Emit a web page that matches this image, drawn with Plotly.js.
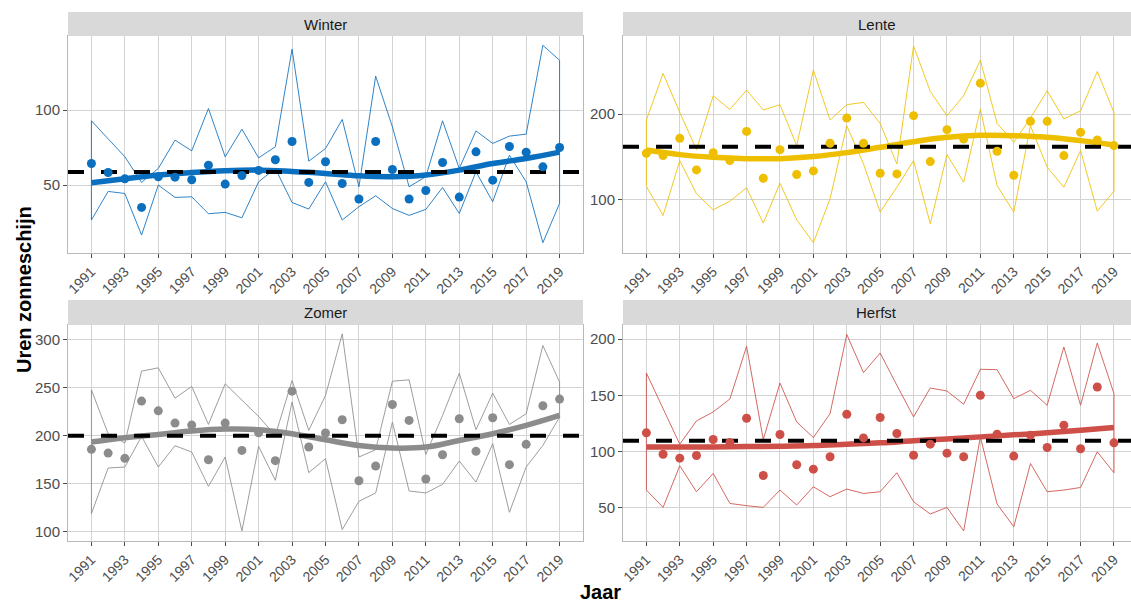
<!DOCTYPE html>
<html><head><meta charset="utf-8">
<script src="https://cdn.plot.ly/plotly-3.0.1.min.js"></script>
<style>html,body{margin:0;padding:0;background:#fff;overflow:hidden}</style>
</head><body><div id="chart" style="width:1131px;height:603px"></div>
<script>
const years = [1991,1992,1993,1994,1995,1996,1997,1998,1999,2000,2001,2002,2003,2004,2005,2006,2007,2008,2009,2010,2011,2012,2013,2014,2015,2016,2017,2018,2019];
const smoothYears = [1991,1993,1995,1997,1999,2001,2003,2005,2007,2009,2011,2013,2015,2017,2019];
const seasons = ["Winter","Lente","Zomer","Herfst"];

const winterMean = [64.4,58.4,54.2,35.1,55.6,55.3,53.6,63.3,50.7,56.4,59.8,66.9,79.1,51.8,65.6,51.1,40.7,79.1,60.4,40.7,46.4,65.1,42.0,72.2,53.3,75.8,72.0,62.2,75.1];
const winterMax = [92.9,81.1,68.9,51.8,61.1,80.0,72.9,101.1,68.9,87.3,68.2,75.6,140.7,66.0,74.4,93.8,48.9,122.7,88.9,48.9,55.6,92.9,61.1,86.2,77.8,82.7,84.0,143.3,133.3];
const winterMin = [26.7,45.8,44.4,16.7,50.0,41.8,42.2,30.9,31.8,28.2,52.2,61.1,38.4,34.0,52.2,26.7,35.6,42.9,34.4,29.8,33.8,48.4,31.1,58.9,38.9,70.0,52.2,11.6,37.8];
const winterSmooth = [51.6,54.2,56.7,58.4,59.6,60.0,59.1,57.8,56.2,55.6,56.7,60.0,64.4,67.8,72.0];
const winterAvg = 58.8;

const lenteMean = [154.3,151.6,171.7,134.9,155.0,145.7,179.8,125.2,158.5,129.5,133.7,165.9,195.3,165.9,131.0,130.2,198.1,144.6,181.8,170.9,236.0,156.6,128.7,191.5,191.5,151.6,178.7,169.8,163.2];
const lenteMax = [193.0,247.3,201.9,158.5,221.3,205.4,227.9,204.7,210.9,163.2,251.2,193.0,210.9,213.6,189.1,141.9,279.5,226.4,198.1,221.3,262.8,189.1,167.1,195.3,227.1,194.2,203.9,249.6,201.9];
const lenteMin = [115.5,81.8,145.7,107.0,88.4,98.4,114.0,72.9,119.4,76.7,50.0,101.2,186.4,141.9,85.7,114.7,145.7,72.1,152.7,120.5,205.8,116.7,85.7,186.4,138.0,114.7,157.4,86.8,110.1];
const lenteSmooth = [158.1,152.7,149.6,148.0,148.0,150.4,155.0,161.2,167.8,172.9,175.2,174.8,172.9,169.0,164.0];
const lenteAvg = 162.0;

const zomerMean = [185.8,181.9,176.4,236.1,226.0,213.2,211.1,175.0,213.2,184.7,203.1,174.0,246.5,188.2,202.8,216.7,153.1,168.4,232.6,216.0,154.9,180.2,217.7,183.7,218.8,169.8,191.0,231.3,238.2];
const zomerMax = [247.9,202.1,192.4,267.4,270.8,239.2,251.4,211.8,254.2,236.8,220.1,200.3,257.6,205.6,242.0,306.3,177.8,185.4,256.9,258.3,180.6,221.2,265.3,206.3,244.4,211.8,222.9,294.1,255.9];
const zomerMin = [118.8,166.3,167.4,199.3,167.4,189.6,183.0,147.2,177.8,100.7,188.9,153.5,235.1,161.5,176.0,102.1,131.6,140.3,214.2,142.4,140.3,149.3,173.6,151.7,191.7,120.1,167.4,189.9,219.4];
const zomerSmooth = [193.4,197.9,201.4,204.9,206.9,206.3,202.1,195.8,189.9,187.2,188.2,195.1,202.1,210.8,221.2];
const zomerAvg = 200.0;

const herfstMean = [116.6,97.6,94.1,96.4,110.7,108.0,129.6,78.7,115.1,88.2,84.3,95.3,133.1,112.1,130.2,116.0,96.7,106.5,98.5,95.3,150.0,115.4,95.9,114.5,103.6,123.4,102.4,157.4,107.7];
const herfstMax = [169.8,138.2,106.5,127.2,135.2,146.7,193.5,110.7,160.9,126.3,112.4,133.7,204.1,170.1,187.6,158.9,130.8,156.5,153.8,142.0,173.1,172.8,147.0,154.4,141.1,192.9,141.1,196.4,151.5];
const herfstMin = [65.7,50.3,87.3,64.2,80.5,53.8,51.8,50.3,65.7,52.4,68.6,59.8,66.6,62.7,64.2,81.1,55.3,44.4,50.3,29.3,113.0,53.3,33.1,89.3,64.2,65.7,68.0,99.7,81.1];
const herfstSmooth = [104.1,104.1,104.1,104.4,104.7,105.3,106.5,107.7,109.5,111.2,113.0,114.8,116.6,118.9,121.3];
const herfstAvg = 109.5;

const colors = ["#0b6fbf","#eebf00","#8c8c8c","#cd4f47"];
const W = 1131, H = 603;

const panels = [
  {name: seasons[0], mean: winterMean, max: winterMax, min: winterMin, smooth: winterSmooth, avg: winterAvg, yr: [4.7,149.5], dt: 50, px:[68,583], py:[36,253]},
  {name: seasons[1], mean: lenteMean, max: lenteMax, min: lenteMin, smooth: lenteSmooth, avg: lenteAvg, yr: [38,291], dt: 100, px:[623,1131], py:[36,253]},
  {name: seasons[2], mean: zomerMean, max: zomerMax, min: zomerMin, smooth: zomerSmooth, avg: zomerAvg, yr: [90.2,315.5], dt: 50, px:[68,583], py:[325,541]},
  {name: seasons[3], mean: herfstMean, max: herfstMax, min: herfstMin, smooth: herfstSmooth, avg: herfstAvg, yr: [20.4,212.5], dt: 50, px:[623,1131], py:[325,541]}
];
const xRanges = [[1989.6,2020.4],[1989.6,2020.02],[1989.6,2020.4],[1989.6,2020.02]];

const traces = [];
const layout = {
  width: W, height: H, margin: {l:0,r:0,t:0,b:0},
  paper_bgcolor: "#fff", plot_bgcolor: "#fff", showlegend: false,
  font: {family: "Liberation Sans, Arial, sans-serif", color: "#4d4d4d"},
  shapes: [], annotations: []
};

panels.forEach((p, i) => {
  const k = i === 0 ? "" : String(i + 1);
  const xa = "x" + k, ya = "y" + k;
  const c = colors[i];
  traces.push({
    x: years.concat(years.slice().reverse(), [years[0]]),
    y: p.max.concat(p.min.slice().reverse(), [p.max[0]]),
    xaxis: xa, yaxis: ya, mode: "lines", line: {color: c, width: 1}, opacity: 0.85, hoverinfo: "skip"
  });
  traces.push({
    x: smoothYears, y: p.smooth, xaxis: xa, yaxis: ya, mode: "lines",
    line: {color: c, width: 5.5, shape: "spline", smoothing: 1.1}
  });
  traces.push({
    x: xRanges[0], y: [p.avg, p.avg], xaxis: xa, yaxis: ya, mode: "lines",
    line: {color: "#000", width: 4, dash: "16px,17px"}
  });
  traces.push({
    x: years, y: p.mean, xaxis: xa, yaxis: ya, mode: "markers",
    marker: {color: c, size: 9, line: {width: 0}}
  });
  const xd = [p.px[0]/W, p.px[1]/W];
  const yd = [(H - p.py[1])/H, (H - p.py[0])/H];
  layout["xaxis" + k] = {
    domain: xd, anchor: ya, range: xRanges[i], tickmode: "linear", tick0: 1991, dtick: 2,
    tickangle: -45, ticks: "outside", ticklen: 4, tickcolor: "#4d4d4d", tickwidth: 1,
    showgrid: true, gridcolor: "#d3d3d3", gridwidth: 1, zeroline: false,
    showline: true, mirror: true, linecolor: "#b8b8b8", linewidth: 1,
    tickfont: {size: 14, color: "#4d4d4d"}, fixedrange: true
  };
  layout["yaxis" + k] = {
    domain: yd, anchor: xa, range: p.yr, tickmode: "linear", tick0: 0, dtick: p.dt,
    ticks: "outside", ticklen: 4, tickcolor: "#4d4d4d", tickwidth: 1,
    showgrid: true, gridcolor: "#d3d3d3", gridwidth: 1, zeroline: false,
    showline: true, mirror: true, linecolor: "#b8b8b8", linewidth: 1,
    tickfont: {size: 15, color: "#4d4d4d"}, fixedrange: true
  };
  const sTop = i < 2 ? 12 : 300;
  layout.shapes.push({
    type: "rect", xref: "paper", yref: "paper",
    x0: xd[0], x1: xd[1], y0: yd[1], y1: (H - sTop)/H,
    fillcolor: "#d9d9d9", line: {width: 0}, layer: "above"
  });
  layout.annotations.push({
    xref: "paper", yref: "paper", x: (xd[0]+xd[1])/2, y: (yd[1] + (H - sTop)/H)/2,
    text: p.name, showarrow: false, xanchor: "center", yanchor: "middle",
    font: {size: 15, color: "#1a1a1a"}
  });
});

layout.annotations.push({
  xref: "paper", yref: "paper", x: 600/W, y: (H - 592)/H, text: "<b>Jaar</b>",
  showarrow: false, xanchor: "center", yanchor: "middle", font: {size: 20, color: "#000"}
});
layout.annotations.push({
  xref: "paper", yref: "paper", x: 24/W, y: (H - 290)/H, text: "<b>Uren zonneschijn</b>",
  showarrow: false, textangle: -90, xanchor: "center", yanchor: "middle", font: {size: 20, color: "#000"}
});

Plotly.newPlot("chart", traces, layout, {staticPlot: true, displayModeBar: false});
</script></body></html>
